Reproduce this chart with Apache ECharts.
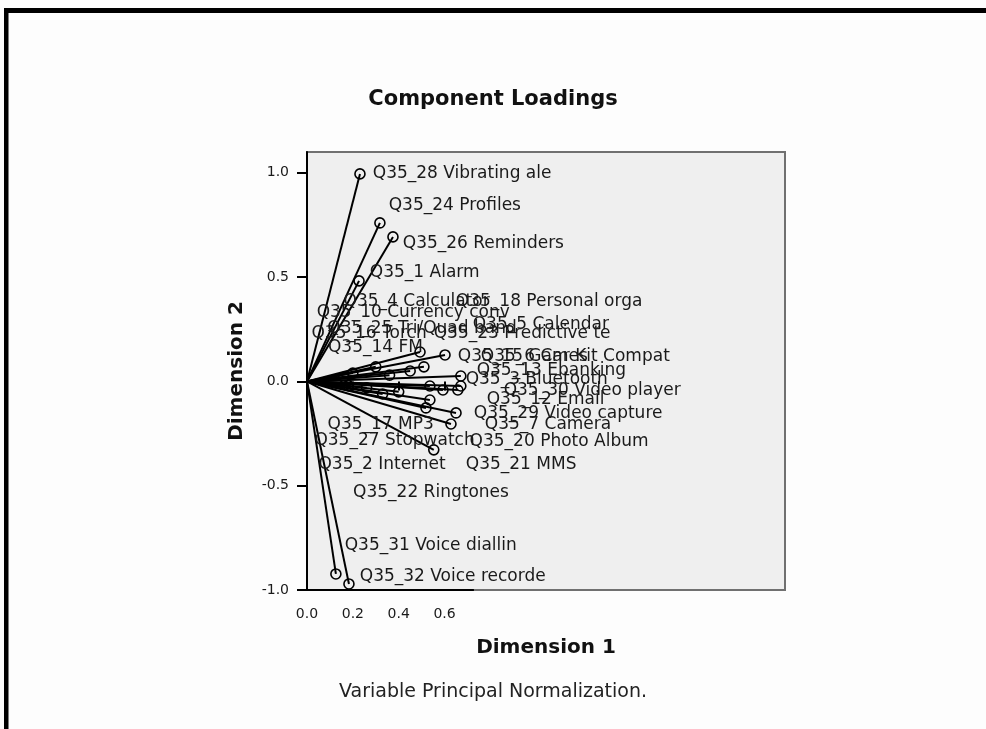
<!DOCTYPE html>
<html>
<head>
<meta charset="utf-8">
<script src="https://cdn.jsdelivr.net/npm/echarts@6/dist/echarts.min.js"></script>
<style>
  html, body { margin: 0; padding: 0; background: #fdfdfd; }
  #chart { width: 986px; height: 729px; }
</style>
</head>
<body>
<div id="chart"></div>
<script>
// Variables and their loadings on the two principal dimensions
const variables = [
  'Q35_28 Vibrating ale', 'Q35_24 Profiles', 'Q35_26 Reminders', 'Q35_1 Alarm',
  'Q35_18 Personal orga', 'Q35_5 Calendar', 'Q35_23 Predictive te', 'Q35_15 Games',
  'Q35_6 Car Kit Compat', 'Q35_13 Ebanking', 'Q35_3 Bluetooth', 'Q35_30 Video player',
  'Q35_12 Email', 'Q35_21 MMS', 'Q35_29 Video capture', 'Q35_7 Camera',
  'Q35_20 Photo Album', 'Q35_4 Calculator', 'Q35_10 Currency conv', 'Q35_25 Tri/Quad band',
  'Q35_16 Torch', 'Q35_14 FM', 'Q35_17 MP3', 'Q35_27 Stopwatch',
  'Q35_2 Internet', 'Q35_22 Ringtones', 'Q35_31 Voice diallin', 'Q35_32 Voice recorde'
];
const dimension1 = [
  0.231, 0.318, 0.375, 0.227,
  0.493, 0.510, 0.536, 0.602,
  0.593, 0.671, 0.671, 0.658,
  0.536, 0.519, 0.650, 0.628,
  0.553, 0.30, 0.20, 0.36,
  0.16, 0.45, 0.40, 0.26,
  0.33, 0.18, 0.126, 0.183
];
const dimension2 = [
  0.995, 0.760, 0.693, 0.482,
  0.141, 0.070, -0.022, 0.127,
  -0.041, 0.026, -0.022, -0.041,
  -0.089, -0.127, -0.151, -0.204,
  -0.328, 0.07, 0.04, 0.03,
  0.02, 0.05, -0.05, -0.03,
  -0.06, -0.02, -0.923, -0.971
];
const xTicks = [0, 0.2, 0.4, 0.6];
const yTicks = [-1, -0.5, 0, 0.5, 1];

// Label placement: pixel shift of each label's left-middle point from its marker centre
const labelNudge = [
  [12, 0], [8, -17], [9, 7], [10, -8],
  [35, -50], [48, -42], [3, -52], [12, 2],
  [37, -33], [15, -5], [4, -6], [45, 1],
  [56, 0], [39, 57], [17, 1], [33, 1],
  [35, -8], [-33, -65], [-37, -61], [-63, -47],
  [-33, -44], [-83, -23], [-72, 33], [-53, 53],
  [-65, 71], [4, 107], [8, -28], [10, -7]
];

const FONT = 'DejaVu Sans';
const points = variables.map((name, i) => ({
  name: name,
  value: [dimension1[i], dimension2[i]],
  label: { offset: [labelNudge[i][0] - 12, labelNudge[i][1]] }
}));

const chart = echarts.init(document.getElementById('chart'), null, { renderer: 'canvas' });

chart.setOption({
  backgroundColor: '#fdfdfd',
  animation: false,
  title: {
    text: 'Component Loadings',
    left: 'center',
    top: 84,
    textStyle: { fontFamily: FONT, fontWeight: 'bold', fontSize: 21, color: '#111' }
  },
  graphic: [
    // page frame
    { type: 'rect', shape: { x: 4, y: 8, width: 982, height: 5 }, style: { fill: '#000' } },
    { type: 'rect', shape: { x: 4, y: 8, width: 4.5, height: 721 }, style: { fill: '#000' } },
    {
      type: 'text', left: 'center', top: 683,
      style: { text: 'Variable Principal Normalization.', font: '19px "DejaVu Sans"', fill: '#222' }
    }
  ],
  grid: {
    left: 307, top: 152, width: 478, height: 438,
    show: true, backgroundColor: '#efefef', borderColor: '#707070', borderWidth: 2
  },
  xAxis: {
    type: 'value', min: 0, max: 2.085,
    name: 'Dimension 1', nameLocation: 'middle', nameGap: 48,
    nameTextStyle: { fontFamily: FONT, fontWeight: 'bold', fontSize: 20, color: '#111' },
    axisLine: { show: false },
    axisTick: { show: true, length: 9, customValues: xTicks, lineStyle: { color: '#000', width: 2 } },
    axisLabel: {
      customValues: xTicks, margin: 17,
      formatter: v => v.toFixed(1),
      fontFamily: FONT, fontSize: 14, color: '#1a1a1a'
    },
    splitLine: { show: false }
  },
  yAxis: {
    type: 'value', min: -1, max: 1.1,
    name: 'Dimension 2', nameLocation: 'middle', nameGap: 60, nameRotate: 90,
    nameTextStyle: { fontFamily: FONT, fontWeight: 'bold', fontSize: 20, color: '#111' },
    axisLine: { show: true, onZero: false, lineStyle: { color: '#000', width: 2 } },
    axisTick: { show: true, length: 10, customValues: yTicks, lineStyle: { color: '#000', width: 2 } },
    axisLabel: {
      customValues: yTicks, margin: 18,
      formatter: v => v.toFixed(1),
      fontFamily: FONT, fontSize: 14, color: '#1a1a1a'
    },
    splitLine: { show: false }
  },
  series: [
    {
      // short x-axis baseline under the tick range
      type: 'line',
      data: [[0, -1], [0.728, -1]],
      showSymbol: false, silent: true, clip: false,
      lineStyle: { color: '#000', width: 2 },
      z: 4
    },
    {
      // loading vectors from the origin
      type: 'custom',
      data: points.map(p => p.value),
      renderItem: (params, api) => {
        const o = api.coord([0, 0]);
        const p = api.coord([api.value(0), api.value(1)]);
        return {
          type: 'line',
          shape: { x1: o[0], y1: o[1], x2: p[0], y2: p[1] },
          style: { stroke: '#000', lineWidth: 2 }
        };
      },
      z: 2
    },
    {
      type: 'scatter',
      data: points,
      symbol: 'circle',
      symbolSize: 10,
      itemStyle: { color: 'rgba(0,0,0,0)', borderColor: '#000', borderWidth: 1.6, opacity: 1 },
      label: {
        show: true, position: 'right', distance: 7,
        formatter: '{b}',
        fontFamily: FONT, fontSize: 17, color: '#1a1a1a'
      },
      z: 3
    }
  ]
});
</script>
</body>
</html>
